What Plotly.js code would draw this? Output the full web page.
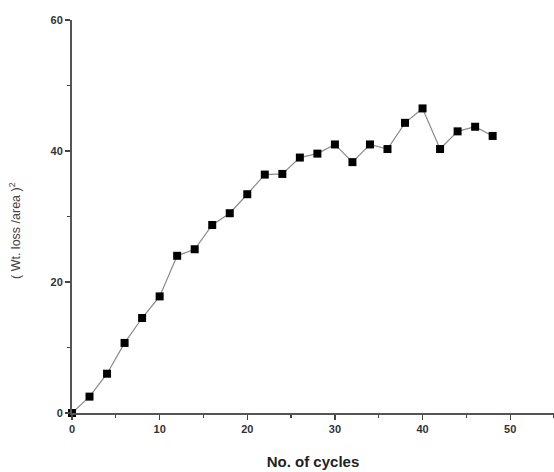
<!DOCTYPE html>
<html>
<head>
<meta charset="utf-8">
<script src="https://cdn.plot.ly/plotly-3.0.1.min.js"></script>
<style>html,body{margin:0;padding:0;background:#fff;}#chart{width:554px;height:472px;}</style>
</head>
<body>
<div id="chart"></div>
<script>
const cycles = [0, 2, 4, 6, 8, 10, 12, 14, 16, 18, 20, 22, 24, 26, 28, 30, 32, 34, 36, 38, 40, 42, 44, 46, 48];
const wtLossSq = [0, 2.5, 6.0, 10.7, 14.5, 17.8, 24.0, 25.0, 28.7, 30.5, 33.4, 36.4, 36.5, 39.0, 39.6, 41.0, 38.3, 41.0, 40.3, 44.3, 46.5, 40.3, 43.0, 43.7, 42.3];
const xTicks = [0, 10, 20, 30, 40, 50];
const yTicks = [0, 20, 40, 60];
const xTitle = 'No. of cycles';
const yTitle = '( Wt. loss /area )<sup>2</sup>';

const trace = {
  x: cycles, y: wtLossSq, type: 'scatter', mode: 'lines+markers',
  line: {color: '#8a8a8a', width: 1.2},
  marker: {symbol: 'square', size: 8, color: '#000'},
  cliponaxis: false, showlegend: false
};
const fam = 'Liberation Sans, Arial, sans-serif';
const axisFont = {family: fam, size: 11, color: '#333', weight: 'bold'};
const layout = {
  width: 554, height: 472,
  margin: {l: 72, r: 0, t: 20, b: 59},
  paper_bgcolor: '#fff', plot_bgcolor: '#fff',
  xaxis: {
    range: [0, 55], tickvals: xTicks, ticks: 'outside', ticklen: 5, tickwidth: 1.2, tickcolor: '#444',
    showline: true, linecolor: '#555', linewidth: 2, showgrid: false, zeroline: false,
    tickfont: axisFont,
    minor: {dtick: 5, tick0: 0, ticks: 'outside', ticklen: 3, tickcolor: '#444', showgrid: false},
    title: {text: xTitle, font: {family: fam, size: 15, color: '#222', weight: 'bold'}, standoff: 22}
  },
  yaxis: {
    range: [0, 60], tickvals: yTicks, ticks: 'outside', ticklen: 5, tickwidth: 1.2, tickcolor: '#444',
    showline: true, linecolor: '#555', linewidth: 2, showgrid: false, zeroline: false,
    tickfont: axisFont,
    minor: {dtick: 10, tick0: 0, ticks: 'outside', ticklen: 3, tickcolor: '#444', showgrid: false}
  },
  annotations: [{
    text: yTitle, xref: 'paper', yref: 'paper', x: -57/482, y: (413 - 231) / 393,
    xanchor: 'center', yanchor: 'middle', textangle: -90, showarrow: false,
    font: {family: fam, size: 12.5, color: '#444'}
  }]
};
Plotly.newPlot('chart', [trace], layout, {displayModeBar: false, staticPlot: true});
</script>
</body>
</html>
